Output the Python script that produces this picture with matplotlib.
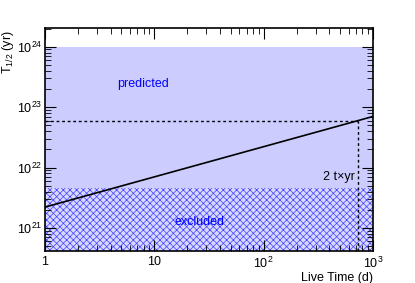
import numpy as np
import matplotlib
matplotlib.use('Agg')
import matplotlib.pyplot as plt

plt.rcParams['font.family'] = ['Liberation Sans', 'DejaVu Sans']
plt.rcParams['mathtext.fontset'] = 'custom'
plt.rcParams['mathtext.rm'] = 'Liberation Sans'
plt.rcParams['hatch.linewidth'] = 0.5

# data
live_time = np.array([1.0, 1000.0])          # days
t_half_coef = 2.22e21                        # sensitivity ~ sqrt(t)
predicted_lo, predicted_hi = 4.6e21, 1e24
excluded_hi = 4.6e21
t_mark = 730.0                               # 2 t x yr
sens_mark = t_half_coef * np.sqrt(t_mark)

fig = plt.figure(figsize=(4.15, 2.83), dpi=100)
ax = fig.add_axes([45/415, 1-251/283, 328/415, 223/283])
ax.set_xscale('log')
ax.set_yscale('log')
ax.set_xlim(1, 1000)
ax.set_ylim(10**20.62, 10**24.31)

ax.fill_between(live_time, predicted_lo, predicted_hi, color='#ccccff', lw=0, zorder=1)
ax.fill_between(live_time, ax.get_ylim()[0], excluded_hi, facecolor='#d8d8ff',
                edgecolor='#4040ff', hatch='xxxxx', lw=0, zorder=1)

tt = np.logspace(0, 3, 100)
ax.plot(tt, t_half_coef * np.sqrt(tt), color='black', lw=1.2, zorder=3)
ax.plot([1, t_mark], [sens_mark, sens_mark], color='black', ls=(0, (2, 2)), lw=1, zorder=3)
ax.plot([t_mark, t_mark], [ax.get_ylim()[0], sens_mark], color='black', ls=(0, (2, 2)), lw=1, zorder=3)

ax.text(0.30, 0.749, 'predicted', transform=ax.transAxes, color='#0000ff', fontsize=9,
        ha='center', va='center')
ax.text(0.47, 0.13, 'excluded', transform=ax.transAxes, color='#0000ff', fontsize=9,
        ha='center', va='center')
ax.text(t_mark * 0.93, 10**21.845, '2 t×yr', color='black', fontsize=9, ha='right', va='center')

ax.set_xlabel('Live Time (d)', fontsize=9, loc='right', labelpad=1)
fig.text(8/415, 1-30/283, r'T$_{1/2}$ (yr)', fontsize=9, rotation=90, ha='center', va='top')

ax.tick_params(which='both', direction='in', top=True, right=True, labelsize=9)
ax.tick_params(axis='y', pad=2)
ax.tick_params(which='major', length=8)
ax.tick_params(which='minor', length=4)
for s in ax.spines.values():
    s.set_linewidth(1.2)
ax.set_xticks([1, 10, 100, 1000])
ax.set_xticklabels(['1', '10', '$10^2$', '$10^3$'])

fig.savefig('out.png', dpi=100)
